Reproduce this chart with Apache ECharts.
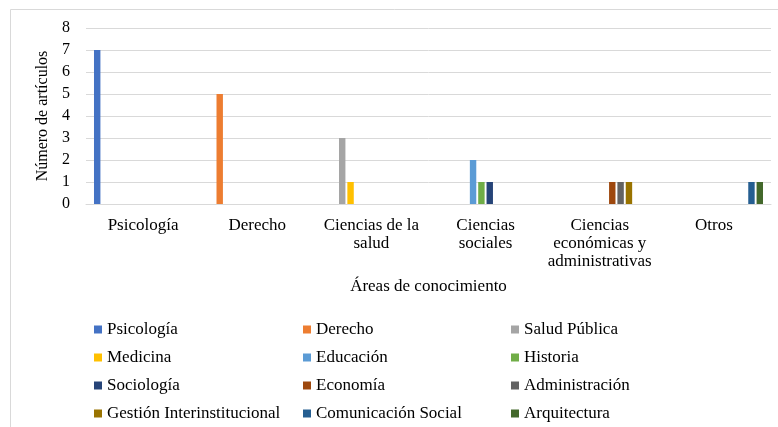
<!DOCTYPE html>
<html>
<head>
<meta charset="utf-8">
<script src="https://cdn.jsdelivr.net/npm/echarts@6/dist/echarts.min.js"></script>
<style>
  html, body { margin: 0; padding: 0; background: #fff; }
  #chart { width: 778px; height: 427px; }
</style>
</head>
<body>
<div id="chart"></div>
<script>
// categories on the x axis
const categories = ["Psicología", "Derecho", "Ciencias de la salud", "Ciencias sociales", "Ciencias económicas y administrativas", "Otros"];
// how the tick labels wrap in the picture
const tickLabels = ["Psicología", "Derecho", "Ciencias de la\nsalud", "Ciencias\nsociales", "Ciencias\neconómicas y\nadministrativas", "Otros"];

// one array per series (number of articles by area)
const psicologia     = [7, 0, 0, 0, 0, 0];
const derecho        = [0, 5, 0, 0, 0, 0];
const saludPublica   = [0, 0, 3, 0, 0, 0];
const medicina       = [0, 0, 1, 0, 0, 0];
const educacion      = [0, 0, 0, 2, 0, 0];
const historia       = [0, 0, 0, 1, 0, 0];
const sociologia     = [0, 0, 0, 1, 0, 0];
const economia       = [0, 0, 0, 0, 1, 0];
const administracion = [0, 0, 0, 0, 1, 0];
const gestion        = [0, 0, 0, 0, 1, 0];
const comunicacion   = [0, 0, 0, 0, 0, 1];
const arquitectura   = [0, 0, 0, 0, 0, 1];

const seriesNames = ["Psicología", "Derecho", "Salud Pública", "Medicina", "Educación", "Historia",
  "Sociología", "Economía", "Administración", "Gestión Interinstitucional", "Comunicación Social", "Arquitectura"];
const seriesValues = [psicologia, derecho, saludPublica, medicina, educacion, historia,
  sociologia, economia, administracion, gestion, comunicacion, arquitectura];
const colors = ["#4472C4", "#ED7D31", "#A5A5A5", "#FFC000", "#5B9BD5", "#70AD47",
  "#264478", "#9E480E", "#636363", "#997300", "#255E91", "#43682B"];

const font = "'Liberation Serif', 'Times New Roman', serif";

const chart = echarts.init(document.getElementById("chart"));

// legend laid out in 3 columns, row by row like the original
const legendCol = (col, left) => ({
  orient: "vertical",
  left: left,
  top: 321,
  padding: 0,
  itemWidth: 8,
  itemHeight: 8,
  itemGap: 11,
  icon: "rect",
  data: seriesNames.filter((_, i) => i % 3 === col),
  textStyle: { fontFamily: font, fontSize: 17, color: "#000", lineHeight: 16 },
});

const option = {
  animation: false,
  color: colors,
  textStyle: { fontFamily: font },
  graphic: [{
    type: "rect",
    shape: { x: 10.5, y: 9.5, width: 800, height: 500 },
    style: { fill: "none", stroke: "#d9d9d9", lineWidth: 1 },
    silent: true,
  }],
  grid: { left: 86, right: 7, top: 28, bottom: 223 },
  legend: [legendCol(0, 94), legendCol(1, 303), legendCol(2, 511)],
  xAxis: {
    type: "category",
    data: categories,
    name: "Áreas de conocimiento",
    nameLocation: "middle",
    nameGap: 74,
    nameTextStyle: { fontFamily: font, fontSize: 17, color: "#000" },
    axisLine: { lineStyle: { color: "#d9d9d9" } },
    axisTick: { show: false },
    axisLabel: {
      margin: 13,
      fontFamily: font,
      fontSize: 17,
      lineHeight: 18,
      color: "#000",
      interval: 0,
      formatter: (v, i) => tickLabels[i],
    },
  },
  yAxis: {
    type: "value",
    min: 0,
    max: 8,
    interval: 1,
    name: "Número de artículos",
    nameLocation: "middle",
    nameGap: 30,
    nameTextStyle: { fontFamily: font, fontSize: 16, color: "#000" },
    axisLine: { show: false },
    axisTick: { show: false },
    axisLabel: { margin: 16, fontFamily: font, fontSize: 16, color: "#000" },
    splitLine: { lineStyle: { color: "#d9d9d9", width: 1 } },
  },
  series: seriesNames.map((name, i) => ({
    name: name,
    type: "bar",
    data: seriesValues[i],
    barGap: "30%",
    barCategoryGap: "14%",
  })),
};

chart.setOption(option);
</script>
</body>
</html>
